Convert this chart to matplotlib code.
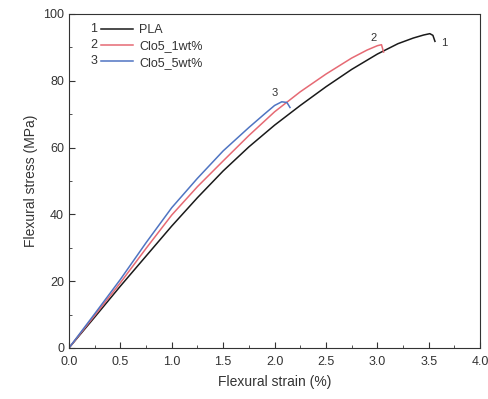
import matplotlib
matplotlib.use('Agg')
import matplotlib.pyplot as plt
from matplotlib.ticker import MultipleLocator

plt.rcParams['font.family'] = ['Liberation Sans', 'DejaVu Sans']

# curve data
pla_strain = [0.0, 0.25, 0.5, 0.75, 1.0, 1.25, 1.5, 1.75, 2.0, 2.25, 2.5, 2.75, 3.0, 3.2, 3.35, 3.45, 3.51, 3.54, 3.56]
pla_stress = [0.0, 9.2, 18.5, 27.5, 36.5, 45.0, 53.0, 60.2, 66.7, 72.6, 78.2, 83.4, 88.0, 91.1, 92.8, 93.7, 94.1, 93.6, 91.8]

clo1_strain = [0.0, 0.25, 0.5, 0.75, 1.0, 1.25, 1.5, 1.75, 2.0, 2.25, 2.5, 2.75, 2.9, 3.0, 3.04, 3.06]
clo1_stress = [0.0, 9.7, 19.5, 29.8, 39.8, 48.3, 56.0, 63.6, 70.7, 76.7, 82.0, 86.8, 89.2, 90.5, 90.8, 88.6]

clo5_strain = [0.0, 0.25, 0.5, 0.75, 1.0, 1.25, 1.5, 1.75, 1.9, 2.0, 2.07, 2.12, 2.15]
clo5_stress = [0.0, 10.2, 20.5, 31.5, 42.0, 50.8, 59.0, 66.0, 70.0, 72.6, 73.7, 73.5, 72.0]

labels = ['PLA', 'Clo5_1wt%', 'Clo5_5wt%']
colors = ['#1a1a1a', '#e66a74', '#4f74c2']
numbers = ['1', '2', '3']

fig = plt.figure(figsize=(4.89, 3.99), dpi=100)
ax = fig.add_axes([0.141, 0.128, 0.841, 0.837])

series = [(pla_strain, pla_stress), (clo1_strain, clo1_stress), (clo5_strain, clo5_stress)]
for (x, y), lab, col in zip(series, labels, colors):
    ax.plot(x, y, color=col, lw=1.1, label=lab)

# number tags at the curve ends
ax.text(3.62, 90.5, '1', fontsize=8, color='#333333')
ax.text(2.93, 92.0, '2', fontsize=8, color='#333333')
ax.text(1.97, 75.3, '3', fontsize=8, color='#333333')

ax.set_xlim(0, 4.0)
ax.set_ylim(0, 100)
ax.xaxis.set_major_locator(MultipleLocator(0.5))
ax.xaxis.set_minor_locator(MultipleLocator(0.25))
ax.yaxis.set_major_locator(MultipleLocator(20))
ax.yaxis.set_minor_locator(MultipleLocator(10))
ax.tick_params(which='both', direction='in', labelsize=9, colors='#333333', labelcolor='#333333')
ax.tick_params(which='major', length=4)
ax.tick_params(which='minor', length=2)
ax.tick_params(axis='x', pad=6)
ax.set_xticklabels([f'{v:.1f}' for v in ax.get_xticks()])
for s in ax.spines.values():
    s.set_color('#333333')

ax.set_xlabel('Flexural strain (%)', fontsize=10, color='#333333', labelpad=5)
ax.set_ylabel('Flexural stress (MPa)', fontsize=10, color='#333333')

leg = ax.legend(loc='upper left', bbox_to_anchor=(0.065, 0.985), borderaxespad=0, frameon=False,
                handlelength=2.6, handletextpad=0.5, labelspacing=0.35, fontsize=9)
for t in leg.get_texts():
    t.set_color('#333333')

fig.canvas.draw()
inv = ax.transAxes.inverted()
for line, num in zip(leg.get_lines(), numbers):
    bb = line.get_window_extent()
    x0, y0 = inv.transform((bb.x0, (bb.y0 + bb.y1) / 2))
    ax.text(x0 - 0.008, y0, num, transform=ax.transAxes, ha='right', va='center',
            fontsize=9, color='#333333')

fig.savefig('out.png', dpi=100)
